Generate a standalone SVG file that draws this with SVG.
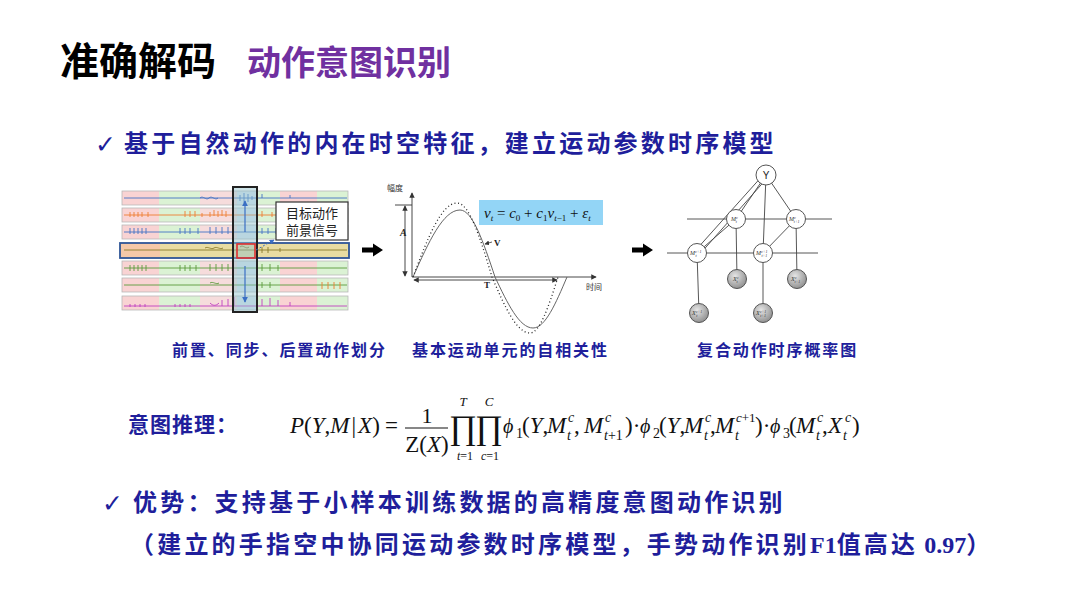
<svg xmlns="http://www.w3.org/2000/svg" width="1080" height="608" viewBox="0 0 1080 608">
<defs>
<style>
.cj{font-family:"Noto Sans CJK SC","Noto Sans",sans-serif;font-weight:bold;}
.db{fill:#201E9B;}
.cap{font-size:16px;letter-spacing:1.9px;}
.big{font-size:24px;letter-spacing:3.2px;}
.chk{font-family:"DejaVu Sans",sans-serif;font-size:25px;fill:#201E9B;}
.f{font-family:"Liberation Serif","DejaVu Serif",serif;fill:#111;}
.m{font-size:23px;}
.s{font-size:14px;}
.i{font-style:italic;}
.phi{font-size:20px;font-style:italic;}
.tiny{font-family:"Liberation Serif",serif;font-style:italic;fill:#333;font-size:6px;}
.node{fill:#fff;stroke:#555;stroke-width:1;}
.xn{fill:url(#gx);stroke:#555;stroke-width:1;}
.edge{stroke:#444;stroke-width:0.9;fill:none;}
.ax{stroke:#333;stroke-width:0.9;fill:none;}
.tk{fill:none;stroke-width:0.9;}
</style>
<radialGradient id="gx" cx="40%" cy="35%" r="70%"><stop offset="0" stop-color="#e6e6e6"/><stop offset="1" stop-color="#8c8c8c"/></radialGradient>
<marker id="ah" viewBox="0 0 8 8" refX="7" refY="4" markerWidth="6" markerHeight="6" orient="auto-start-reverse"><path d="M0,0L8,4L0,8z" fill="#333"/></marker>
<marker id="ab" viewBox="0 0 8 8" refX="7" refY="4" markerWidth="5" markerHeight="5" orient="auto-start-reverse"><path d="M0,0L8,4L0,8z" fill="#3b6fc4"/></marker>
<g id="rb">
<rect x="122" y="0" width="37" height="14" fill="#f9d3d3"/>
<rect x="159" y="0" width="41" height="14" fill="#dbf2d4"/>
<rect x="200" y="0" width="37" height="14" fill="#f6dcdc"/>
<rect x="237" y="0" width="20" height="14" fill="#dde8f0"/>
<rect x="257" y="0" width="23" height="14" fill="#dbf2d4"/>
<rect x="280" y="0" width="37" height="14" fill="#f9d3d3"/>
<rect x="317" y="0" width="31" height="14" fill="#dbf2d4"/>
<rect x="122" y="0" width="226" height="14" fill="none" stroke="#b8b8b8" stroke-width="0.8"/>
</g>
<path id="blk" d="M0,-2.5H11V-6.5L21,0L11,6.5V2.5H0Z" fill="#000"/>
</defs>

<rect width="1080" height="608" fill="#fff"/>

<g id="title">
<text x="60" y="75" class="cj" font-size="39" fill="#000">准确解码</text>
<text x="247" y="75" class="cj" font-size="34" fill="#7030A0">动作意图识别</text>
</g>

<g id="bullet1">
<text x="95" y="153" class="chk">✓</text>
<text x="124" y="152" class="cj db big">基于自然动作的内在时空特征，建立运动参数时序模型</text>
</g>

<g id="signals">
<use href="#rb" y="191"/>
<use href="#rb" y="208"/>
<use href="#rb" y="225"/>
<use href="#rb" y="261"/>
<use href="#rb" y="278"/>
<use href="#rb" y="296"/>
<rect x="120" y="243" width="40" height="15" fill="#f5c8a8"/>
<rect x="160" y="243" width="189" height="15" fill="#e8dca2"/>
<rect x="120" y="243" width="229" height="15" fill="none" stroke="#2f5597" stroke-width="1.8"/>
<path class="tk" stroke="#4472c4" d="M124,198H347M200,198c3,-3 6,3 9,0s6,3 9,0M240,195v6M244,193v10M248,194v8M252,196v4M262,198v-4M290,198v-3"/>
<path class="tk" stroke="#ed7d31" d="M124,215H347M130,212v5M134,212v5M138,212v5M142,212v5M148,212v5M185,211v6M190,211v6M195,211v6M202,213v4M210,212v5M214,210v6M218,211v6M222,210v6M226,211v6M262,211v6M272,212v5M300,211v6M320,212v4"/>
<path class="tk" stroke="#4472c4" d="M124,232H347M130,228v6M134,228v6M138,228v6M142,228v6M146,228v6M180,228v6M185,228v6M190,228v6M198,228v6M210,227v7M216,227v7M222,227v7M228,227v7M262,228v6M268,228v6M276,228v6"/>
<path class="tk" stroke="#8a7a2a" d="M124,250H347M205,248c3,-2 6,2 9,0s6,2 9,0M240,247c3,-3 6,3 9,0M262,247v6M268,247v6M280,248v4"/>
<path class="tk" stroke="#5a9a3a" d="M124,268H347M130,265v6M134,265v6M138,265v6M142,265v6M146,265v6M180,265v6M185,265v6M190,265v6M196,265v6M210,264v7M216,264v7M222,264v7M228,264v7M262,264v7M270,264v7M278,265v6"/>
<path class="tk" stroke="#5a9a3a" d="M124,285H347M210,283c3,-2 6,2 9,0M262,282v6M270,282v6"/>
<path class="tk" stroke="#ed7d31" d="M322,282v7M328,282v7M334,282v7M340,282v7"/>
<path class="tk" stroke="#c040c0" d="M124,306H347M130,304v3M135,304v3M140,304v3M145,304v3M175,304v3M180,304v3M185,304v3M190,304v3M210,303c3,3 6,3 9,0M222,300v6M228,299v7M234,297v9M262,299v7M270,298v8M278,300v6M290,302v4"/>
<rect x="233" y="187" width="24" height="125" fill="#8fc1cc" fill-opacity="0.45" stroke="#222" stroke-width="2"/>
<rect x="237" y="244" width="18" height="14" fill="none" stroke="#e03030" stroke-width="1.6"/>
<line x1="245" y1="232" x2="245" y2="201" stroke="#3b6fc4" stroke-width="1.2" marker-end="url(#ab)"/>
<line x1="245" y1="266" x2="245" y2="302" stroke="#3b6fc4" stroke-width="1.2" marker-end="url(#ab)"/>
<line x1="256" y1="250" x2="274" y2="240" stroke="#3b6fc4" stroke-width="1" stroke-dasharray="2 2" marker-end="url(#ab)"/>
</g>

<g id="callout">
<rect x="276" y="202" width="72" height="38" fill="#fff" stroke="#333" stroke-width="1.2"/>
<text x="312" y="218" text-anchor="middle" font-family="Noto Sans CJK SC, sans-serif" font-size="13" fill="#222">目标动作</text>
<text x="312" y="235" text-anchor="middle" font-family="Noto Sans CJK SC, sans-serif" font-size="13" fill="#222">前景信号</text>
</g>

<g id="arrows">
<use href="#blk" x="362" y="250"/>
<use href="#blk" x="632" y="250"/>
</g>

<g id="sine">
<line class="ax" x1="412" y1="277" x2="412" y2="193" marker-end="url(#ah)"/>
<line class="ax" x1="412" y1="277" x2="596" y2="277" marker-end="url(#ah)"/>
<text x="387" y="191" font-family="Noto Sans CJK SC, sans-serif" font-size="8" fill="#333">幅度</text>
<text x="586" y="290" font-family="Noto Sans CJK SC, sans-serif" font-size="8" fill="#333">时间</text>
<line class="ax" x1="395" y1="205" x2="412" y2="205"/>
<line class="ax" x1="405" y1="206" x2="405" y2="276" marker-start="url(#ah)" marker-end="url(#ah)"/>
<text x="400" y="236" font-family="Liberation Serif, serif" font-style="italic" font-weight="bold" font-size="10" fill="#222">A</text>
<line class="ax" x1="414" y1="280" x2="557" y2="280" marker-start="url(#ah)" marker-end="url(#ah)"/>
<text x="484" y="288" font-family="Liberation Serif, serif" font-weight="bold" font-size="9" fill="#222">T</text>
<path d="M413,277C428.7,241.8 443.2,210 460,210C472.5,210 483.3,241.8 495,277C507.7,303.8 519.4,328 533,328C545.2,328 555.6,303.8 567,277" fill="none" stroke="#666" stroke-width="1"/>
<path d="M413,277C427.7,238.1 441.2,203 457,203C469.5,203 480.3,238.1 492,277C504.7,306.4 516.4,333 530,333C540,333 548.6,306.4 558,277" fill="none" stroke="#222" stroke-width="1.3" stroke-dasharray="1 2.6"/>
<line x1="492" y1="242" x2="485" y2="244" stroke="#333" stroke-width="0.8" marker-end="url(#ah)"/>
<text x="494" y="246" font-family="Liberation Serif, serif" font-weight="bold" font-size="9" fill="#222">V</text>
<rect x="479" y="200" width="124" height="25" fill="#93d5f6"/>
<text x="484" y="218" class="f i" font-size="15"><tspan>v</tspan><tspan font-size="9" dy="3">t</tspan><tspan dy="-3" font-style="normal"> = </tspan><tspan>c</tspan><tspan font-size="9" dy="3" font-style="normal">0</tspan><tspan dy="-3" font-style="normal"> + </tspan><tspan>c</tspan><tspan font-size="9" dy="3" font-style="normal">1</tspan><tspan dy="-3">v</tspan><tspan font-size="9" dy="3">t</tspan><tspan font-size="9" font-style="normal">−1</tspan><tspan dy="-3" font-style="normal"> + </tspan><tspan>ε</tspan><tspan font-size="9" dy="3">t</tspan></text>
</g>

<g id="graph">
<g id="edges">
<line class="edge" x1="687" y1="219" x2="832" y2="219"/>
<line class="edge" x1="667" y1="253" x2="818" y2="253"/>
<line class="edge" x1="766" y1="175" x2="736" y2="219"/>
<line class="edge" x1="766" y1="175" x2="796" y2="219"/>
<line class="edge" x1="766" y1="175" x2="763" y2="253"/>
<line class="edge" x1="764" y1="174" x2="695" y2="251"/>
<line class="edge" x1="768" y1="177" x2="699" y2="255"/>
<line class="edge" x1="736" y1="219" x2="697" y2="253"/>
<line class="edge" x1="796" y1="219" x2="763" y2="253"/>
<line class="edge" x1="736" y1="219" x2="737" y2="279"/>
<line class="edge" x1="796" y1="219" x2="797" y2="279"/>
<line class="edge" x1="697" y1="253" x2="699" y2="313"/>
<line class="edge" x1="763" y1="253" x2="763" y2="313"/>
</g>
<g id="nY"><circle class="node" cx="766" cy="175" r="10"/><text x="766" y="179" text-anchor="middle" font-family="Liberation Sans, sans-serif" font-size="10" fill="#222">Y</text></g>
<g id="nM1"><circle class="node" cx="736" cy="219" r="9.5"/><text x="731" y="221" class="tiny">M<tspan font-size="4" dy="-2">c</tspan><tspan font-size="4" dx="-2" dy="4">t</tspan></text></g>
<g id="nM2"><circle class="node" cx="796" cy="219" r="9.5"/><text x="789" y="221" class="tiny">M<tspan font-size="4" dy="-2">c</tspan><tspan font-size="4" dx="-2" dy="4">t+1</tspan></text></g>
<g id="nM3"><circle class="node" cx="697" cy="253" r="9.5"/><text x="690" y="255" class="tiny">M<tspan font-size="4" dy="-2">c+1</tspan><tspan font-size="4" dx="-6" dy="4">t</tspan></text></g>
<g id="nM4"><circle class="node" cx="763" cy="253" r="9.5"/><text x="756" y="255" class="tiny">M<tspan font-size="4" dy="-2">c+1</tspan><tspan font-size="4" dx="-6" dy="4">t+1</tspan></text></g>
<g id="nX1"><circle class="xn" cx="737" cy="279" r="9.5"/><text x="733" y="281" class="tiny">X<tspan font-size="4" dy="-2">c</tspan><tspan font-size="4" dx="-2" dy="4">t</tspan></text></g>
<g id="nX2"><circle class="xn" cx="797" cy="279" r="9.5"/><text x="791" y="281" class="tiny">X<tspan font-size="4" dy="-2">c</tspan><tspan font-size="4" dx="-2" dy="4">t+1</tspan></text></g>
<g id="nX3"><circle class="xn" cx="699" cy="313" r="9.5"/><text x="692" y="315" class="tiny">X<tspan font-size="4" dy="-2">c+1</tspan><tspan font-size="4" dx="-6" dy="4">t</tspan></text></g>
<g id="nX4"><circle class="xn" cx="763" cy="313" r="9.5"/><text x="756" y="315" class="tiny">X<tspan font-size="4" dy="-2">c+1</tspan><tspan font-size="4" dx="-6" dy="4">t+1</tspan></text></g>
</g>

<g id="captions">
<text x="172" y="356" class="cj db cap">前置、同步、后置动作划分</text>
<text x="412" y="356" class="cj db cap">基本运动单元的自相关性</text>
<text x="697" y="356" class="cj db cap">复合动作时序概率图</text>
</g>

<g id="inference">
<text x="128" y="432" class="cj db" font-size="21" letter-spacing="1">意图推理：</text>
</g>

<g id="formula" class="f">
<text x="290" y="433" class="m"><tspan class="i">P</tspan>(<tspan class="i">Y</tspan>,<tspan class="i">M</tspan><tspan dx="2">|</tspan><tspan class="i" dx="2">X</tspan>)</text>
<text x="385" y="433" class="m">=</text>
<text x="427" y="423" font-size="22" text-anchor="middle">1</text>
<line x1="405" y1="428" x2="448" y2="428" stroke="#111" stroke-width="1.2"/>
<text x="427" y="452" class="m" text-anchor="middle">Z(<tspan class="i">X</tspan>)</text>
<text x="449" y="439" font-size="34">∏</text>
<text x="475" y="439" font-size="34">∏</text>
<text x="463" y="406" font-size="13" class="i" text-anchor="middle">T</text>
<text x="489" y="406" font-size="13" class="i" text-anchor="middle">C</text>
<text x="465" y="460" font-size="12" text-anchor="middle"><tspan class="i">t</tspan>=1</text>
<text x="490" y="460" font-size="12" text-anchor="middle"><tspan class="i">c</tspan>=1</text>
<text x="503" y="433" class="phi">ϕ</text><text x="516" y="438" class="s">1</text>
<text x="522" y="433" class="m">(<tspan class="i">Y</tspan>,</text>
<text x="547" y="433" class="m i">M</text><text x="568" y="422" class="s i">c</text><text x="567" y="440" class="s i">t</text>
<text x="574" y="433" class="m">,</text>
<text x="584" y="433" class="m i">M</text><text x="605" y="422" class="s i">c</text><text x="604" y="440" class="s"><tspan class="i">t</tspan>+1</text>
<text x="625" y="433" class="m">)·</text>
<text x="640" y="433" class="phi">ϕ</text><text x="653" y="438" class="s">2</text>
<text x="659" y="433" class="m">(<tspan class="i">Y</tspan>,</text>
<text x="684" y="433" class="m i">M</text><text x="705" y="422" class="s i">c</text><text x="704" y="440" class="s i">t</text>
<text x="710" y="433" class="m">,</text>
<text x="715" y="433" class="m i">M</text><text x="736" y="422" font-size="13"><tspan class="i">c</tspan>+1</text><text x="735" y="440" class="s i">t</text>
<text x="755" y="433" class="m">)·</text>
<text x="770" y="433" class="phi">ϕ</text><text x="783" y="438" class="s">3</text>
<text x="789" y="433" class="m">(</text>
<text x="796" y="433" class="m i">M</text><text x="817" y="422" class="s i">c</text><text x="816" y="440" class="s i">t</text>
<text x="822" y="433" class="m">,</text>
<text x="828" y="433" class="m i">X</text><text x="845" y="422" class="s i">c</text><text x="843" y="440" class="s i">t</text>
<text x="852" y="433" class="m">)</text>
</g>

<g id="bullet2">
<text x="102" y="512" class="chk">✓</text>
<text x="133" y="511" class="cj db big">优势：支持基于小样本训练数据的高精度意图动作识别</text>
<text x="130" y="553" class="cj db big">（建立的手指空中协同运动参数时序模型，手势动作识别<tspan font-family="Liberation Serif, serif" letter-spacing="0">F1</tspan>值高达<tspan font-family="Liberation Serif, serif" letter-spacing="0"> 0.97</tspan>）</text>
</g>
</svg>
